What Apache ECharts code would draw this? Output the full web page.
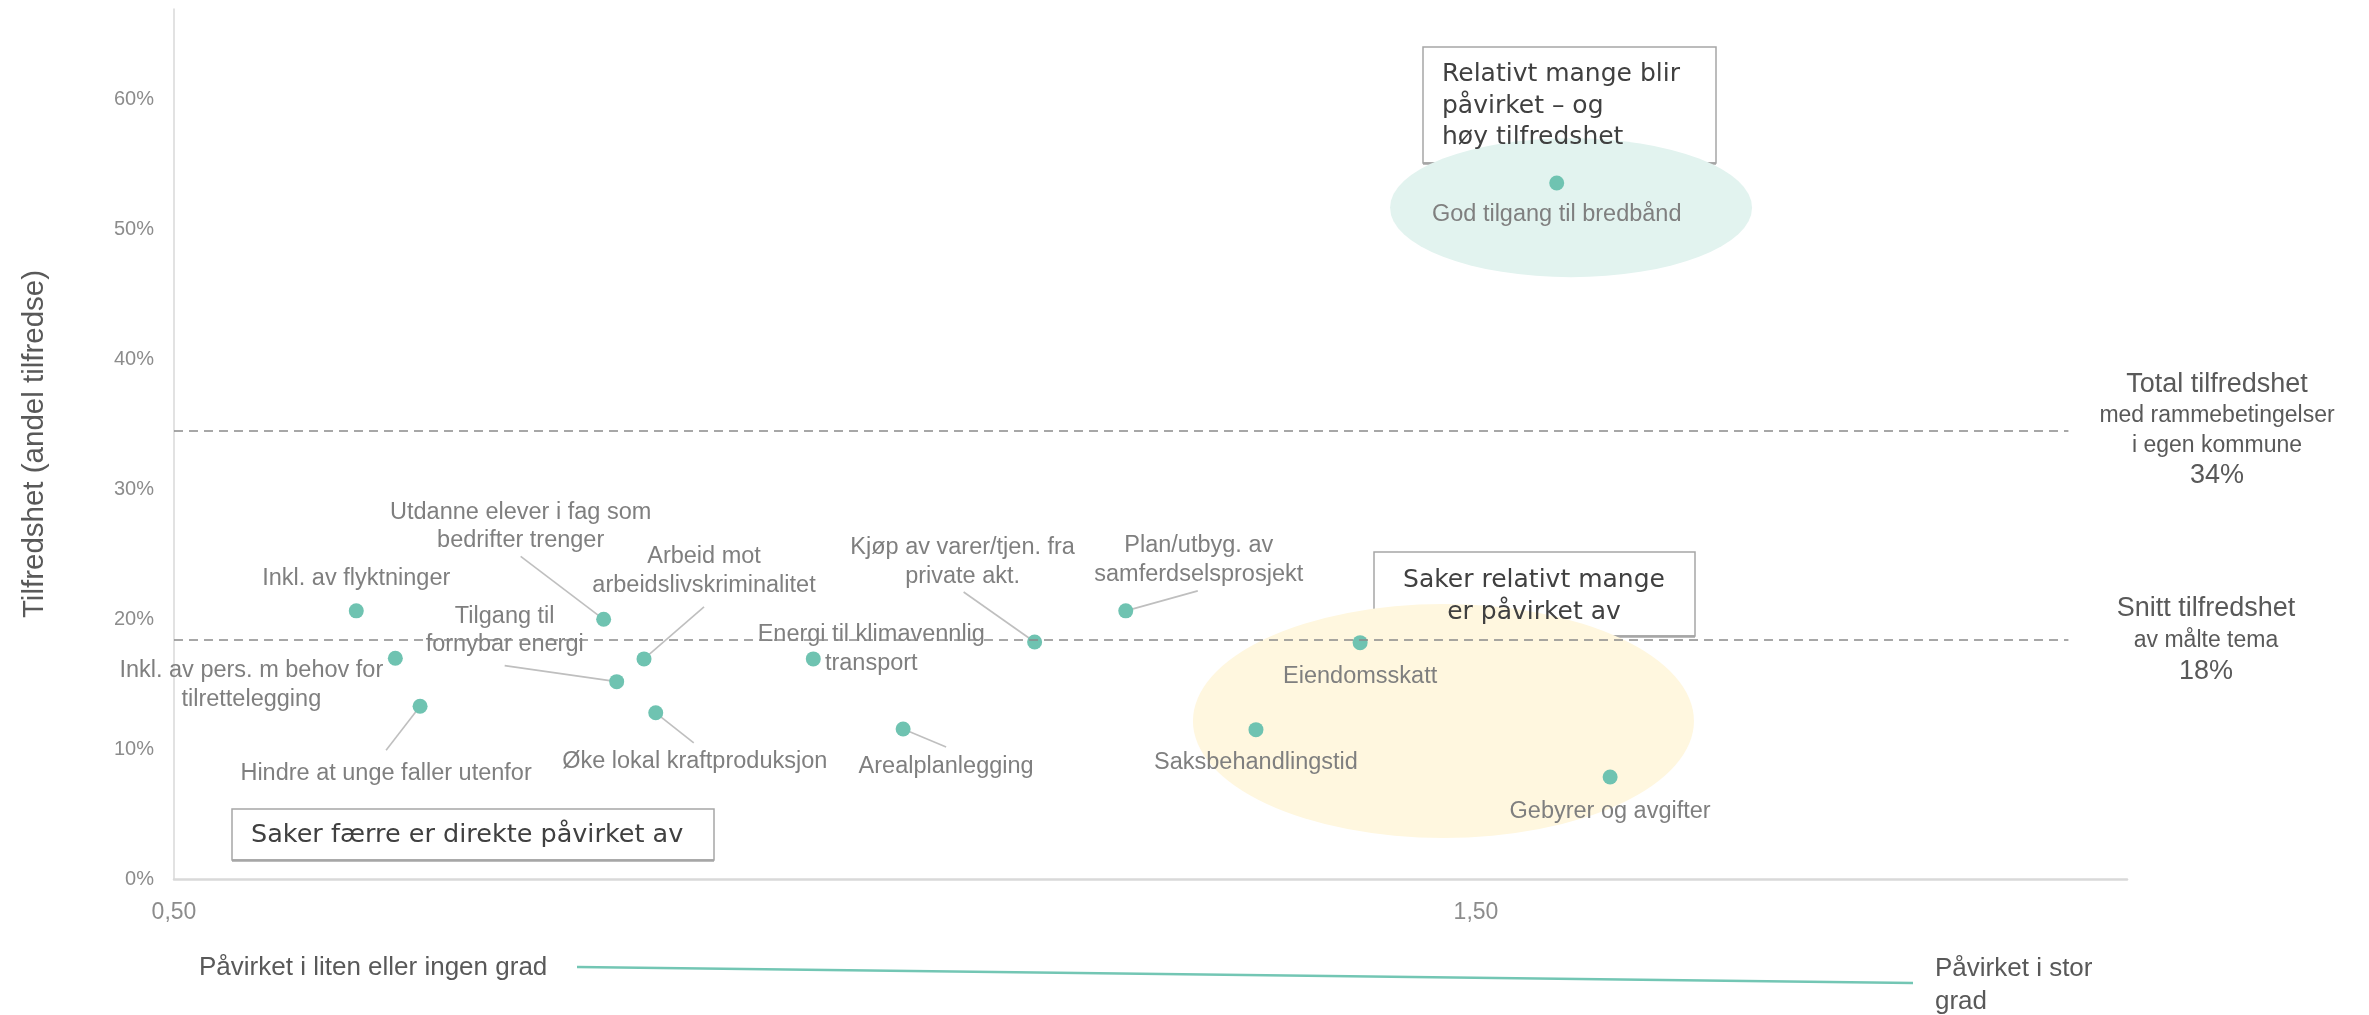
<!DOCTYPE html>
<html>
<head>
<meta charset="utf-8">
<script src="https://cdn.jsdelivr.net/npm/echarts@6/dist/echarts.min.js"></script>
<style>
  html, body { margin: 0; padding: 0; background: #fff; }
  #chart { width: 2369px; height: 1015px; }
</style>
</head>
<body>
<div id="chart"></div>
<script>
// temaer
const topics = [
  'Inkl. av flyktninger',
  'Inkl. av pers. m behov for\ntilrettelegging',
  'Hindre at unge faller utenfor',
  'Utdanne elever i fag som\nbedrifter trenger',
  'Tilgang til\nfornybar energi',
  'Arbeid mot\narbeidslivskriminalitet',
  'Øke lokal kraftproduksjon',
  'Energi til klimavennlig\ntransport',
  'Arealplanlegging',
  'Kjøp av varer/tjen. fra\nprivate akt.',
  'Plan/utbyg. av\nsamferdselsprosjekt',
  'Eiendomsskatt',
  'Saksbehandlingstid',
  'Gebyrer og avgifter',
  'God tilgang til bredbånd'
];
// grad av påvirkning (x-akse)
const impact = [0.640, 0.670, 0.689, 0.830, 0.840, 0.861, 0.870, 0.991, 1.060, 1.161, 1.231, 1.411, 1.331, 1.603, 1.562];
// andel tilfredse (y-akse)
const satisfaction = [0.2065, 0.170, 0.133, 0.200, 0.152, 0.1695, 0.128, 0.1695, 0.1155, 0.1825, 0.2065, 0.182, 0.115, 0.0785, 0.536];

// referanselinjer
const totalSatisfaction = 0.345;
const avgSatisfaction = 0.184;
const refLineEnd = 1.955;

// akser
const xTickLabels = [0.5, 1.5];
const xRange = [0.5, 2.0];
const yRange = [0, 0.67];

// markerte områder: [senter x, senter y, radius x, radius y]
const zones = [
  [1.573, 0.517, 0.139, 0.0535],
  [1.475, 0.1217, 0.1924, 0.0901]
];
const zoneColors = ['#e2f3ef', '#fff7df'];

// etikettplassering i px: [dx, dy] for teksten, og evt. [dx, dy] for enden av ledelinjen
const labelPlacement = [
  [0, -32, null],
  [-144, 27, null],
  [-34, 67, [-34, 44]],
  [-83, -93, [-83, -63]],
  [-112, -51, [-112, -16]],
  [60, -88, [60, -52]],
  [39, 49, [38, 30]],
  [58, -10, null],
  [43, 37, [43, 18]],
  [-72, -80, [-71, -50]],
  [73, -51, [72, -20]],
  [0, 34, null],
  [0, 33, null],
  [0, 34, null],
  [0, 32, null]
];

const FONT = 'Liberation Sans';
const BOXFONT = 'DejaVu Sans';

let points = topics.map((name, i) => ({
  name: name,
  value: [impact[i], satisfaction[i]]
}));

let txt = (text, x, y, size, color, align, family, lh) => ({
  type: 'text',
  silent: true,
  z: 10,
  style: {
    text: text, x: x, y: y,
    fontSize: size, fontFamily: family || FONT,
    fill: color,
    align: align, textAlign: align,
    verticalAlign: 'middle', textVerticalAlign: 'middle',
    lineHeight: lh || size * 1.2
  }
});

// ramme med litt tykkere underkant
let box = (x, y, w, h) => ({
  type: 'group',
  silent: true,
  z: 10,
  children: [
    {
      type: 'rect',
      shape: {x: x, y: y, width: w, height: h},
      style: {fill: 'none', stroke: '#a6a6a6', lineWidth: 1.5}
    },
    {
      type: 'line',
      shape: {x1: x, y1: y + h + 0.5, x2: x + w, y2: y + h + 0.5},
      style: {stroke: '#a6a6a6', lineWidth: 2.5}
    }
  ]
});

let chart = echarts.init(document.getElementById('chart'));

chart.setOption({
  animation: false,
  backgroundColor: '#ffffff',
  grid: {left: 174, top: 9, width: 1953, height: 870, containLabel: false},
  xAxis: {
    type: 'value',
    min: xRange[0],
    max: xRange[1],
    interval: 0.5,
    axisLine: {show: true, onZero: false, lineStyle: {color: '#d9d9d9', width: 2.5}},
    axisTick: {show: false},
    splitLine: {show: false},
    axisLabel: {
      margin: 22,
      fontSize: 23,
      fontFamily: FONT,
      color: '#8c8c8c',
      showMaxLabel: false,
      formatter: v => xTickLabels.some(t => Math.abs(t - v) < 1e-6) ? v.toFixed(2).replace('.', ',') : ''
    }
  },
  yAxis: {
    type: 'value',
    min: yRange[0],
    max: yRange[1],
    interval: 0.1,
    name: 'Tilfredshet (andel tilfredse)',
    nameLocation: 'middle',
    nameRotate: 90,
    nameGap: 124,
    nameTextStyle: {fontSize: 29.5, fontFamily: FONT, color: '#595959'},
    axisLine: {show: true, lineStyle: {color: '#d9d9d9', width: 1.5}},
    axisTick: {show: false},
    splitLine: {show: false},
    axisLabel: {
      margin: 20,
      fontSize: 20,
      fontFamily: FONT,
      color: '#8c8c8c',
      showMaxLabel: false,
      formatter: v => Math.round(v * 100) + '%'
    }
  },
  series: [
    {
      // markerte områder (ellipser)
      type: 'custom',
      coordinateSystem: 'cartesian2d',
      silent: true,
      z: 1,
      data: zones,
      renderItem: (params, api) => {
        let c = api.coord([api.value(0), api.value(1)]);
        let s = api.size([api.value(2), api.value(3)]);
        return {
          type: 'circle',
          x: c[0], y: c[1],
          scaleX: s[0], scaleY: s[1],
          shape: {cx: 0, cy: 0, r: 1},
          style: {fill: zoneColors[params.dataIndex]}
        };
      }
    },
    {
      // ledelinjer fra punkt til etikett
      type: 'custom',
      coordinateSystem: 'cartesian2d',
      silent: true,
      z: 2,
      data: points.map(p => p.value),
      renderItem: (params, api) => {
        let end = labelPlacement[params.dataIndex][2];
        if (!end) return {type: 'group', children: []};
        let c = api.coord([api.value(0), api.value(1)]);
        return {
          type: 'line',
          shape: {x1: c[0], y1: c[1], x2: c[0] + end[0], y2: c[1] + end[1]},
          style: {stroke: '#bfbfbf', lineWidth: 1.6}
        };
      }
    },
    {
      type: 'scatter',
      z: 3,
      symbolSize: 15,
      itemStyle: {color: '#6fc3b1', opacity: 1},
      data: points,
      label: {
        show: true,
        position: 'inside',
        formatter: p => p.name,
        color: '#7f7f7f',
        fontSize: 23.5,
        lineHeight: 28.5,
        fontFamily: FONT,
        align: 'center'
      },
      labelLayout: params => ({
        dx: labelPlacement[params.dataIndex][0],
        dy: labelPlacement[params.dataIndex][1]
      }),
      markLine: {
        silent: true,
        symbol: 'none',
        label: {show: false},
        lineStyle: {type: [9, 6], color: '#8a8a8a', width: 1.5},
        data: [
          [{coord: [xRange[0], totalSatisfaction]}, {coord: [refLineEnd, totalSatisfaction]}],
          [{coord: [xRange[0], avgSatisfaction]}, {coord: [refLineEnd, avgSatisfaction]}]
        ]
      }
    }
  ],
  graphic: [
    // tekstbokser
    box(1423, 47, 293, 116),
    txt('Relativt mange blir\npåvirket – og\nhøy tilfredshet', 1442, 106, 25, '#404040', 'left', BOXFONT, 31.5),
    box(1374, 552, 321, 84),
    txt('Saker relativt mange\ner påvirket av', 1534, 596, 25, '#404040', 'center', BOXFONT, 32),
    box(232, 809, 482, 51),
    txt('Saker færre er direkte påvirket av', 251, 835, 25.5, '#404040', 'left', BOXFONT),
    // forklaring til referanselinjene
    txt('Total tilfredshet', 2217, 385, 27, '#595959', 'center'),
    txt('med rammebetingelser', 2217, 416, 23, '#595959', 'center'),
    txt('i egen kommune', 2217, 446, 23, '#595959', 'center'),
    txt('34%', 2217, 476, 27, '#595959', 'center'),
    txt('Snitt tilfredshet', 2206, 609, 27, '#595959', 'center'),
    txt('av målte tema', 2206, 641, 23, '#595959', 'center'),
    txt('18%', 2206, 672, 27, '#595959', 'center'),
    // x-aksens forklaring
    txt('Påvirket i liten eller ingen grad', 199, 968, 26, '#595959', 'left'),
    {
      type: 'line',
      silent: true,
      shape: {x1: 577, y1: 967, x2: 1913, y2: 983},
      style: {stroke: '#73c6b4', lineWidth: 2.5}
    },
    txt('Påvirket i stor\ngrad', 1935, 985, 26, '#595959', 'left', FONT, 33)
  ]
});
</script>
</body>
</html>
